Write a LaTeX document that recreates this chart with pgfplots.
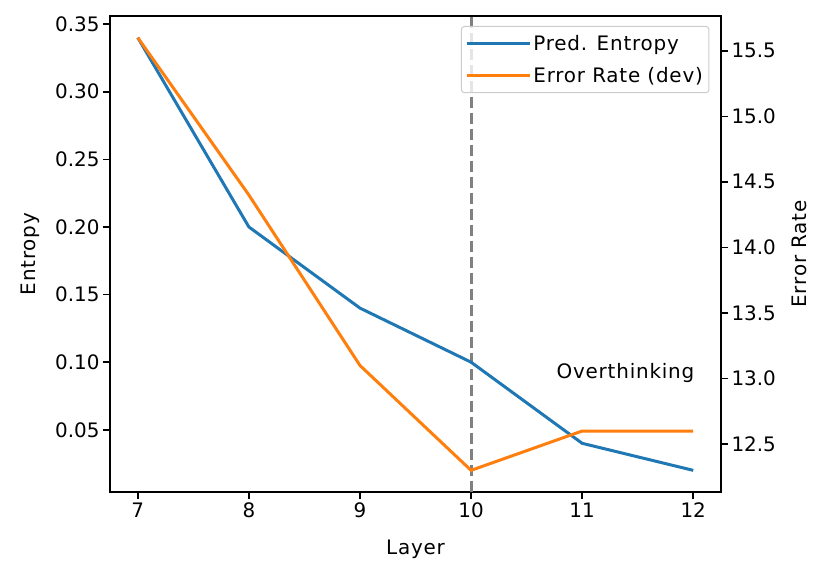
\documentclass[border=0pt]{standalone}
\usepackage{pgfplots}
\pgfplotsset{compat=1.18}
\usepackage{fontspec}
\setmainfont{DejaVu Sans}
\newfontfamily\wfont[LetterSpace=4]{DejaVu Sans}
\definecolor{mblue}{HTML}{1F77B4}
\definecolor{morange}{HTML}{FF7F0E}
\begin{document}
\begin{tikzpicture}[x=1bp,y=1bp,font=\fontsize{20}{24}\selectfont]
\useasboundingbox (0,0) rectangle (831,575);
\pgfplotsset{
  every axis/.append style={
    scale only axis, width=611bp, height=476bp,
    at={(110bp,83bp)}, anchor=south west,
    xmin=6.75, xmax=12.25,
    tick align=outside, major tick length=7bp,
    every tick/.style={line width=1.6bp, black},
    axis line style={line width=1.6bp},
    /pgf/number format/assume math mode=true,
    tick label style={font=\fontsize{20}{24}\selectfont},
    label style={font=\wfont\fontsize{20}{24}\selectfont},
  }
}
\begin{axis}[
  ymin=0.004, ymax=0.356,
  xtick pos=bottom, ytick pos=left,
  xtick={7,8,9,10,11,12},
  ytick={0.05,0.10,0.15,0.20,0.25,0.30,0.35},
  yticklabel style={/pgf/number format/.cd,fixed,fixed zerofill,precision=2},
  xlabel={Layer}, ylabel={Entropy},
  xlabel style={yshift=-16bp},
  ylabel style={yshift=9bp},
]
\addplot[gray, line width=3bp, dash pattern=on 11bp off 5bp, forget plot] coordinates {(10,0.004) (10,0.356)};
\addplot[mblue, line width=3bp] coordinates {(7,0.34) (8,0.20) (9,0.14) (10,0.10) (11,0.04) (12,0.02)};
\node[anchor=center, font=\wfont\fontsize{20}{24}\selectfont] at (axis cs:11.39,0.092) {Overthinking};
\end{axis}
\begin{axis}[
  ymin=12.135, ymax=15.765,
  axis y line*=right,
  hide x axis,
  ytick={12.5,13.0,13.5,14.0,14.5,15.0,15.5},
  yticklabel style={/pgf/number format/.cd,fixed,fixed zerofill,precision=1},
  ylabel={Error Rate},
  ylabel style={yshift=-9bp},
  legend style={at={(0.981,0.979)}, anchor=north east, draw=black!20, line width=1bp,
    fill=white, fill opacity=0.8, text opacity=1, rounded corners=3bp,
    font=\wfont\fontsize{20}{24}\selectfont, inner xsep=4bp, inner ysep=6.5bp, row sep=12bp},
  legend cell align=left,
  legend image code/.code={\draw[#1, line width=3bp] (0bp,0bp) -- (47bp,0bp); \path (0bp,0bp) -- (63bp,0bp);},
]
\addlegendimage{mblue, line width=3bp}
\addlegendentry{Pred. Entropy}
\addplot[morange, line width=3bp] coordinates {(7,15.6) (8,14.4) (9,13.1) (10,12.3) (11,12.6) (12,12.6)};
\addlegendentry{Error Rate (dev)}
\end{axis}
\end{tikzpicture}
\end{document}
